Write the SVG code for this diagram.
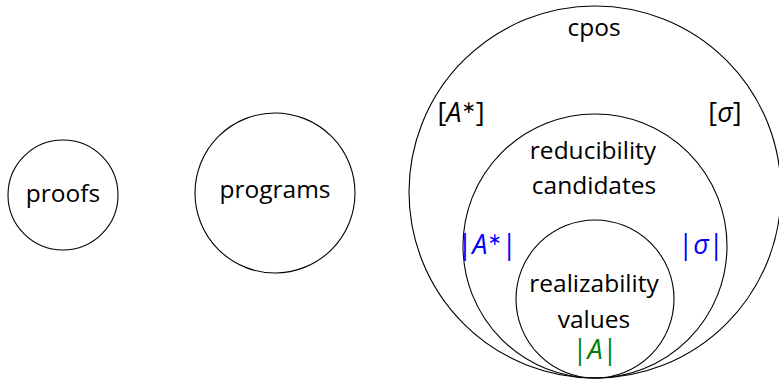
<svg xmlns="http://www.w3.org/2000/svg" width="779" height="380" viewBox="0 0 779 380">
<style>
.c{fill:none;stroke:#000;stroke-width:1.1}
text{font-family:"Open Sans","DejaVu Sans",sans-serif;font-size:24.5px;text-anchor:middle;fill:#000}
.m{font-size:27px}
.i{font-style:italic}
.sup{font-size:17px}
.blue{fill:#0000ff}
.green{fill:#008000}
</style>
<g id="proofs"><circle class="c" cx="63" cy="195" r="55"/><text x="63" y="202">proofs</text></g>
<g id="programs"><circle class="c" cx="275" cy="193" r="80"/><text x="275" y="198">programs</text></g>
<g id="cpos"><circle class="c" cx="595" cy="192" r="186"/><text x="594" y="36">cpos</text>
<text class="m" x="461" y="122">[<tspan class="i">A</tspan><tspan class="sup" dy="-9">∗</tspan><tspan dy="9">]</tspan></text>
<text class="m" x="725" y="122">[<tspan class="i">σ</tspan>]</text></g>
<g id="reducibility"><circle class="c" cx="595" cy="246" r="132"/><text x="593" y="159">reducibility</text><text x="594" y="194">candidates</text>
<text class="m blue" x="487" y="254">|<tspan class="i">A</tspan><tspan class="sup" dy="-9">∗</tspan><tspan dy="9">|</tspan></text>
<text class="m blue" x="701" y="254">|<tspan class="i">σ</tspan>|</text></g>
<g id="realizability"><circle class="c" cx="595" cy="299" r="79"/><text x="594" y="292">realizability</text><text x="594" y="328">values</text>
<text class="m green" x="595" y="359">|<tspan class="i">A</tspan>|</text></g>
<g id="connectors"></g>
</svg>
